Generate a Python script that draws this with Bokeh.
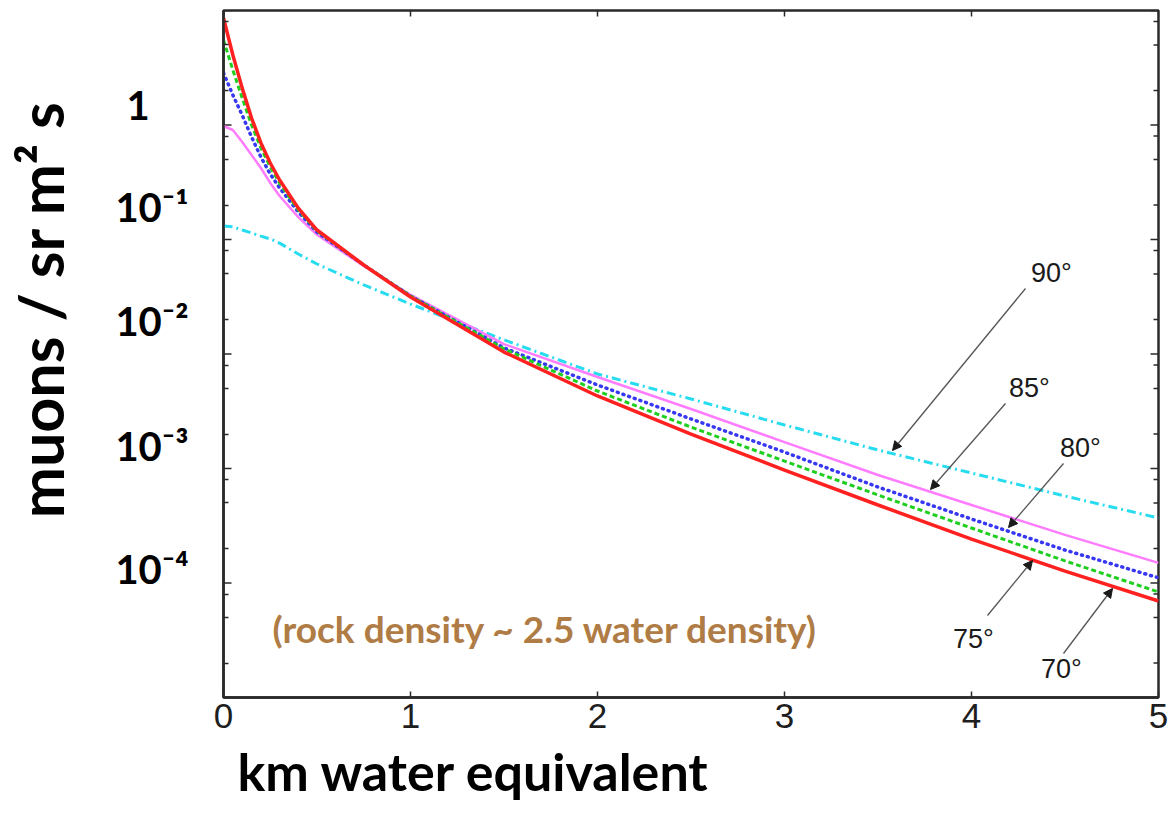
import math
from bokeh.plotting import figure
from bokeh.models import (Range1d, FixedTicker, Label, Arrow, NormalHead, Title)
from bokeh.embed import file_html
from bokeh.resources import INLINE

# ---------------- data ----------------
depth_km = [0, 0.05, 0.1, 0.15, 0.2, 0.25, 0.3, 0.4, 0.5, 0.75, 1.0, 1.5, 2.0, 2.5, 3.0, 3.5, 4.0, 4.5, 5.0]
flux_70 = [8.60, 4.09, 2.10, 1.15, 0.697, 0.466, 0.331, 0.188, 0.121, 0.0599, 0.0315, 0.0104,
           4.30e-3, 2.00e-3, 9.70e-4, 4.80e-4, 2.42e-4, 1.27e-4, 6.96e-5]
flux_75 = [5.53, 3.02, 1.72, 1.00, 0.630, 0.430, 0.311, 0.181, 0.119, 0.0599, 0.0321, 0.0111,
           4.75e-3, 2.30e-3, 1.16e-3, 5.87e-4, 3.02e-4, 1.56e-4, 8.35e-5]
flux_80 = [2.85, 1.83, 1.22, 0.786, 0.525, 0.373, 0.282, 0.174, 0.116, 0.0599, 0.0321, 0.0113,
           5.36e-3, 2.71e-3, 1.39e-3, 6.89e-4, 3.62e-4, 1.94e-4, 1.11e-4]
flux_85 = [0.980, 0.904, 0.711, 0.547, 0.421, 0.312, 0.240, 0.157, 0.110, 0.0587, 0.0328, 0.0122,
           6.30e-3, 3.31e-3, 1.70e-3, 8.77e-4, 4.80e-4, 2.63e-4, 1.50e-4]
flux_90 = [0.131, 0.129, 0.121, 0.114, 0.107, 0.101, 0.093, 0.0747, 0.0611, 0.0401, 0.0273, 0.0133,
           6.69e-3, 4.05e-3, 2.40e-3, 1.45e-3, 9.13e-4, 5.75e-4, 3.70e-4]

x_ticks = [0, 1, 2, 3, 4, 5]
y_label_decades = [1.0, 1e-1, 1e-2, 1e-3, 1e-4]
y_tick_labels = ["1", "10\u207b\u00b9", "10\u207b\u00b2", "10\u207b\u00b3", "10\u207b\u2074"]
angle_names = ["90°", "85°", "80°", "75°", "70°"]

# ---------------- layout helpers (frame in pixels) ----------------
FL, FT, FR, FB = 223, 10, 1158, 697
W, H = 1172, 816
XMIN, XMAX, YMIN, YMAX = 0.0, 5.0, 1e-5, 10.0
LMIN, LMAX = math.log10(YMIN), math.log10(YMAX)

def X(px):
    return XMIN + (px - FL) / (FR - FL) * (XMAX - XMIN)

def Y(py):
    return 10 ** (LMAX - (py - FT) / (FB - FT) * (LMAX - LMIN))

def dx(npx):
    return npx * (XMAX - XMIN) / (FR - FL)

def yfac(npx):
    return 10 ** (npx * (LMAX - LMIN) / (FB - FT))

BOLD_FONT = "Lato"
TICK_FONT = "Liberation Sans"
AX = "#2a2a2a"
NBSP = "\u00a0"

p = figure(width=W, height=H, x_range=Range1d(XMIN, XMAX), y_range=Range1d(YMIN, YMAX),
           y_axis_type="log", output_backend="svg", toolbar_location=None,
           min_border_left=FL, min_border_right=W - FR, min_border_top=FT,
           min_border_bottom=H - FB)
p.background_fill_color = "white"
p.border_fill_color = "white"
p.outline_line_color = AX
p.outline_line_width = 2.5
p.xgrid.visible = False
p.ygrid.visible = False

decades = [10.0 ** k for k in range(-5, 2)]
minors = [m * 10.0 ** k for k in range(-5, 1) for m in (2, 5, 8)]

def style_ticks(ax, major_in):
    ax.axis_line_color = AX
    ax.axis_line_width = 2.5
    ax.major_tick_line_color = AX
    ax.major_tick_line_width = 1.5
    ax.minor_tick_line_color = AX
    ax.minor_tick_line_width = 1.5
    ax.major_tick_in = major_in
    ax.major_tick_out = 0
    ax.minor_tick_in = 5
    ax.minor_tick_out = 0

# bottom axis
xb = p.xaxis[0]
xb.ticker = FixedTicker(ticks=x_ticks, minor_ticks=[])
style_ticks(xb, 6)
xb.major_label_text_font = TICK_FONT
xb.major_label_text_font_size = "35px"
xb.major_label_text_color = "#1e1e1e"
xb.major_label_standoff = 6

# left axis: large bold labels, set a little above their decade (as in the reference)
label_lift_px = [20.5, 32.5, 33, 23, 14.5]
label_at = [d * yfac(s) for d, s in zip(y_label_decades, label_lift_px)]
label_text = [y_tick_labels[0] + NBSP * 4] + y_tick_labels[1:]
yl = p.yaxis[0]
yl.ticker = FixedTicker(ticks=label_at, minor_ticks=minors)
style_ticks(yl, 0)
yl.major_label_overrides = {t: s for t, s in zip(label_at, label_text)}
yl.major_label_text_font = BOLD_FONT
yl.major_label_text_font_style = "bold"
yl.major_label_text_font_size = "40px"
yl.major_label_text_color = "black"
yl.major_label_standoff = 35
# y title as the axis label (leading no-break spaces lift it above the centre, as in the reference)
yl.axis_label = NBSP * 6 + "muons / sr m² s"
yl.axis_label_text_font = BOLD_FONT
yl.axis_label_text_font_style = "bold"
yl.axis_label_text_font_size = "61px"
yl.axis_label_text_color = "black"
yl.axis_label_standoff = 35

# inward decade ticks on left/right edges, minor on right, ticks on top
p.segment(x0=[XMIN] * len(decades), y0=decades, x1=[XMIN + dx(8)] * len(decades), y1=decades,
          line_color=AX, line_width=1.5)
for vals, ln in ((decades, 8), (minors, 5)):
    p.segment(x0=[XMAX] * len(vals), y0=vals, x1=[XMAX - dx(ln)] * len(vals), y1=vals,
              line_color=AX, line_width=1.5)
p.segment(x0=x_ticks, y0=[YMAX] * len(x_ticks), x1=x_ticks,
          y1=[YMAX / yfac(6)] * len(x_ticks), line_color=AX, line_width=1.5)

# ---------------- curves ----------------
p.line(depth_km, flux_90, color="#28DCF0", line_width=3, line_dash="9 4 2 4")
p.line(depth_km, flux_85, color="#FF7CFF", line_width=2.5)
p.line(depth_km, flux_80, color="#3838F2", line_width=3.5, line_dash="1 5", line_cap="round")
p.line(depth_km, flux_75, color="#1FCF1F", line_width=3, line_dash="5 3")
p.line(depth_km, flux_70, color="#FF2020", line_width=3.5)

# ---------------- angle annotations with arrows ----------------
angle_pos = [((1051, 272), (1025, 288), (892, 450)),
             ((1029, 387), (1005, 403), (930, 489)),
             ((1080, 447), (1063, 463), (1008, 527)),
             ((973, 638), (987, 615), (1032, 560)),
             ((1061, 668), (1063, 653), (1112, 588))]
for name, (lc, a0, a1) in zip(angle_names, angle_pos):
    p.add_layout(Arrow(end=NormalHead(size=9, fill_color="#1a1a1a", line_color="#1a1a1a"),
                       x_start=X(a0[0]), y_start=Y(a0[1]), x_end=X(a1[0]), y_end=Y(a1[1]),
                       line_color="#555555", line_width=1.3))
    p.add_layout(Label(x=X(lc[0]), y=Y(lc[1]), text=name, text_font=TICK_FONT,
                       text_font_size="27px", text_color="#1a1a1a",
                       text_align="center", text_baseline="middle"))

# note
p.add_layout(Label(x=X(272), y=Y(628), text="(rock density ~ 2.5 water density)",
                   text_font=BOLD_FONT, text_font_style="bold", text_font_size="37px",
                   text_color="#B07C45", text_align="left", text_baseline="alphabetic"))

# ---------------- x title ----------------
p.add_layout(Title(text="km water equivalent", align="left", offset=14, standoff=14,
                   text_font=BOLD_FONT, text_font_style="bold", text_font_size="52px",
                   text_color="black"), "below")

open("out.html", "w").write(file_html(p, INLINE))
